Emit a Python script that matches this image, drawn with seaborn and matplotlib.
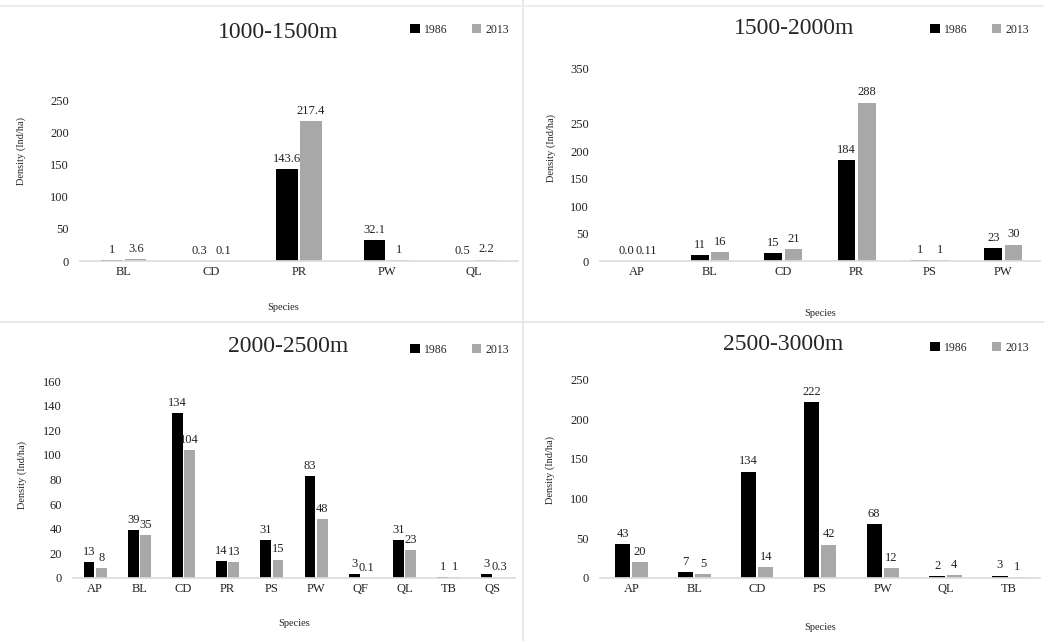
import pandas as pd
import matplotlib.pyplot as plt
import seaborn as sns
from matplotlib.lines import Line2D

sns.set_theme(style="white")
plt.rcParams['font.family'] = ['Liberation Serif', 'DejaVu Serif']

# Data for each altitude band (strings kept so labels match the original)
years = ['1986', '2013']

sp_1000 = ['BL', 'CD', 'PR', 'PW', 'QL']
v1986_1000 = ['1', '0.3', '143.6', '32.1', '0.5']
v2013_1000 = ['3.6', '0.1', '217.4', '1', '2.2']

sp_1500 = ['AP', 'BL', 'CD', 'PR', 'PS', 'PW']
v1986_1500 = ['0.0', '11', '15', '184', '1', '23']
v2013_1500 = ['0.11', '16', '21', '288', '1', '30']

sp_2000 = ['AP', 'BL', 'CD', 'PR', 'PS', 'PW', 'QF', 'QL', 'TB', 'QS']
v1986_2000 = ['13', '39', '134', '14', '31', '83', '3', '31', '1', '3']
v2013_2000 = ['8', '35', '104', '13', '15', '48', '0.1', '23', '1', '0.3']

sp_2500 = ['AP', 'BL', 'CD', 'PS', 'PW', 'QL', 'TB']
v1986_2500 = ['43', '7', '134', '222', '68', '2', '3']
v2013_2500 = ['20', '5', '14', '42', '12', '4', '1']

palette = {'1986': 'black', '2013': '#a8a8a8'}

W, H = 1044, 641
fig = plt.figure(figsize=(W / 100, H / 100), dpi=100)


def px(x0, y_top, x1, y_bot):
    # pixel box -> figure fraction rect
    return [x0 / W, 1 - y_bot / H, (x1 - x0) / W, (y_bot - y_top) / H]


panels = [
    ('1000-1500m', sp_1000, v1986_1000, v2013_1000, px(80, 81, 518, 261),
     (0, 280), [0, 50, 100, 150, 200, 250], (278, 32), (520, 30), (21, 151), 308),
    ('1500-2000m', sp_1500, v1986_1500, v2013_1500, px(600, 63, 1040, 261),
     (0, 360), [0, 50, 100, 150, 200, 250, 350], (794, 28), (1040, 30), (551, 148), 313),
    ('2000-2500m', sp_2000, v1986_2000, v2013_2000, px(73, 375, 515, 578),
     (0, 165), list(range(0, 161, 20)), (288, 347), (520, 350), (22, 475), 623),
    ('2500-3000m', sp_2500, v1986_2500, v2013_2500, px(600, 370, 1040, 578),
     (0, 262), [0, 50, 100, 150, 200, 250], (783, 345), (1040, 348), (550, 470), 628),
]

for title, species, a, b, rect, ylim, yticks, tpos, lpos, ylpos, xly in panels:
    df = pd.DataFrame({
        'Species': species * 2,
        'Year': ['1986'] * len(species) + ['2013'] * len(species),
        'Density': [float(v) for v in a + b],
    })
    ax = fig.add_axes(rect)
    sns.barplot(data=df, x='Species', y='Density', hue='Year', palette=palette,
                width=0.55, gap=0.12, ax=ax, edgecolor='none', saturation=1)
    for cont, labs in zip(ax.containers, [a, b]):
        ax.bar_label(cont, labels=labs, padding=3, fontsize=9, color='#222222')
    ax.set_ylim(*ylim)
    ax.set_yticks(yticks)
    ax.set_xlabel('')
    ax.set_ylabel('')
    ax.tick_params(axis='both', labelsize=9, length=0, colors='#222222')
    ax.tick_params(axis='y', pad=8)
    sns.despine(ax=ax, left=True)
    ax.spines['bottom'].set_color('#dddddd')
    ax.legend(loc='center right', bbox_to_anchor=(lpos[0] / W, 1 - lpos[1] / H),
              bbox_transform=fig.transFigure, ncol=2, frameon=False, fontsize=8.5,
              handlelength=0.8, handleheight=0.8, columnspacing=2.0, handletextpad=0.4)
    fig.text(tpos[0] / W, 1 - tpos[1] / H, title, fontsize=17, ha='center', va='center')
    fig.text(ylpos[0] / W, 1 - ylpos[1] / H, 'Density (Ind/ha)', fontsize=7.5,
             rotation=90, ha='center', va='center')
    fig.text((rect[0] + rect[2] / 2) if title != '1000-1500m' else 283 / W, 1 - xly / H,
             'Species', fontsize=7.5, ha='center', va='center')

# panel separators
fig.add_artist(Line2D([0, 1], [1 - 322 / H, 1 - 322 / H], color='#e4e4e4', lw=1.2))
fig.add_artist(Line2D([523 / W, 523 / W], [0, 1], color='#e4e4e4', lw=1.2))
fig.add_artist(Line2D([0, 1], [1 - 6 / H, 1 - 6 / H], color='#eeeeee', lw=1.5))

fig.savefig('out.png', dpi=100, facecolor='white')
